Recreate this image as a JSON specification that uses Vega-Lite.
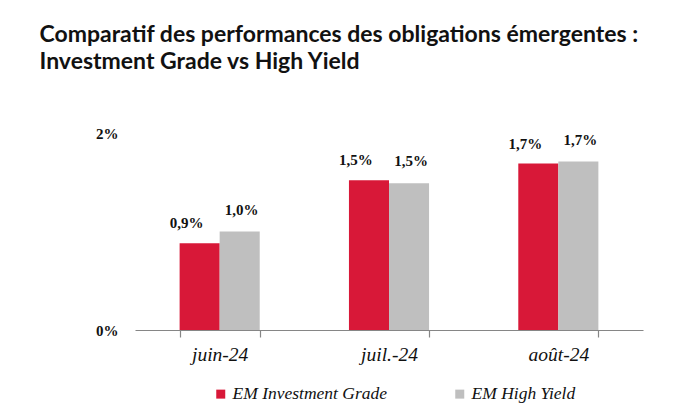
{
  "$schema": "https://vega.github.io/schema/vega-lite/v6.json",
  "width": 508,
  "height": 197,
  "autosize": {"type": "none"},
  "padding": {"left": 135, "top": 133, "right": 57, "bottom": 87},
  "background": "white",
  "config": {
    "view": {"stroke": null},
    "locale": {"number": {"decimal": ",", "thousands": " ", "grouping": [3], "currency": ["", " €"]}}
  },
  "title": {
    "text": ["Comparatif des performances des obligations émergentes :", "Investment Grade vs High Yield"],
    "anchor": "start",
    "orient": "top",
    "dx": -56,
    "offset": 52,
    "font": "Lato",
    "fontSize": 23,
    "fontWeight": "bold",
    "lineHeight": 27,
    "color": "#111111"
  },
  "data": {
    "values": [
      {"month": "juin-24", "series": "EM Investment Grade", "value": 0.0088},
      {"month": "juin-24", "series": "EM High Yield", "value": 0.0100},
      {"month": "juil.-24", "series": "EM Investment Grade", "value": 0.0152},
      {"month": "juil.-24", "series": "EM High Yield", "value": 0.0149},
      {"month": "août-24", "series": "EM Investment Grade", "value": 0.0169},
      {"month": "août-24", "series": "EM High Yield", "value": 0.0171}
    ]
  },
  "encoding": {
    "x": {
      "field": "month", "type": "nominal", "sort": ["juin-24", "juil.-24", "août-24"],
      "scale": {"paddingInner": 0.527, "paddingOuter": 0.2635},
      "axis": {
        "title": null, "labelAngle": 0, "domainColor": "#868686", "domainWidth": 1.2,
        "tickColor": "#868686", "tickWidth": 1.2, "tickBand": "extent", "tickSize": 7,
        "labelFont": "Liberation Serif", "labelFontStyle": "italic", "labelFontSize": 19.5,
        "labelColor": "#111111", "labelPadding": 8
      }
    },
    "xOffset": {
      "field": "series", "type": "nominal", "sort": ["EM Investment Grade", "EM High Yield"],
      "scale": {"paddingInner": 0, "paddingOuter": 0}
    },
    "y": {
      "field": "value", "type": "quantitative",
      "scale": {"domain": [0, 0.02]},
      "axis": {
        "title": null, "values": [0, 0.02], "format": ".0%", "domain": false, "ticks": false, "grid": false,
        "labelFont": "Liberation Serif", "labelFontWeight": "bold", "labelFontSize": 15,
        "labelColor": "#111111", "labelPadding": 17
      }
    }
  },
  "layer": [
    {
      "mark": {"type": "bar"},
      "encoding": {
        "color": {
          "field": "series", "type": "nominal",
          "scale": {"domain": ["EM Investment Grade", "EM High Yield"], "range": ["#D81838", "#BFBFBF"]},
          "legend": {
            "title": null, "orient": "none", "direction": "horizontal", "legendX": 77, "legendY": 252,
            "symbolType": "square", "symbolSize": 81, "symbolStrokeWidth": 0, "symbolOffset": 0,
            "labelFont": "Liberation Serif", "labelFontStyle": "italic", "labelFontSize": 17.5,
            "labelColor": "#111111", "labelOffset": 3, "columnPadding": 63
          }
        }
      }
    },
    {
      "transform": [{"filter": "datum.series == 'EM Investment Grade'"}],
      "mark": {"type": "text", "baseline": "bottom", "dy": -12, "dx": -13, "font": "Liberation Serif", "fontWeight": "bold", "fontSize": 15, "color": "#111111"},
      "encoding": {"text": {"field": "value", "type": "quantitative", "format": ".1%"}}
    },
    {
      "transform": [{"filter": "datum.series == 'EM High Yield'"}],
      "mark": {"type": "text", "baseline": "bottom", "dy": -14, "dx": 2, "font": "Liberation Serif", "fontWeight": "bold", "fontSize": 15, "color": "#111111"},
      "encoding": {"text": {"field": "value", "type": "quantitative", "format": ".1%"}}
    }
  ]
}
